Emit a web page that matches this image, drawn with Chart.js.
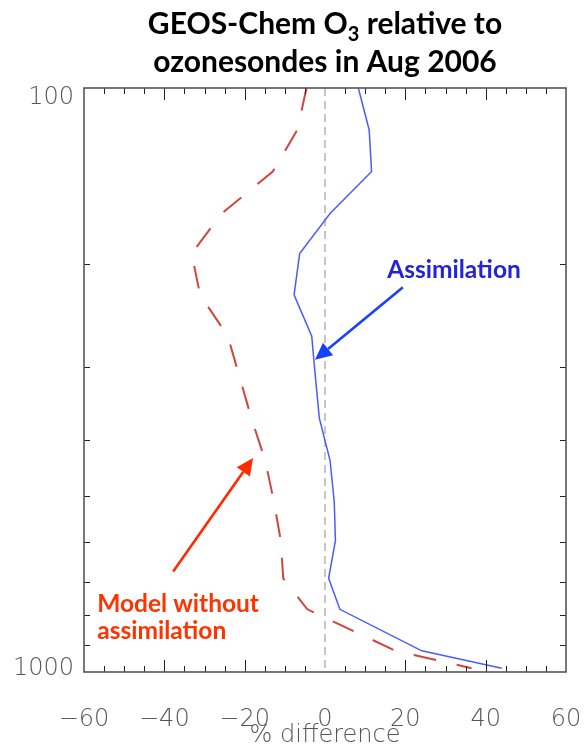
<!DOCTYPE html>
<html>
<head>
<meta charset="utf-8">
<script src="https://cdn.jsdelivr.net/npm/chart.js@4.4.1/dist/chart.umd.min.js"></script>
<style>
  html, body { margin: 0; padding: 0; background: #ffffff; }
  #c { display: block; }
</style>
</head>
<body>
<canvas id="c" width="584" height="744"></canvas>
<script>
// Pressure levels (hPa) of the sonde comparison profile
const pressureLevels = [100, 118, 139, 164, 192, 226, 266, 312, 368, 434, 511, 596, 691, 781, 920, 985];
// GEOS-Chem O3 minus ozonesondes, % difference, with assimilation
const assimDiff = [8.3, 11.0, 11.6, 1.25, -6.3, -7.7, -3.3, -2.4, -1.4, 1.25, 2.3, 2.6, 0.9, 3.7, 24.1, 44.0];
// same, free-running model without assimilation
const noAssimDiff = [-4.6, -6.9, -13.0, -25.7, -33.2, -31.1, -24.2, -21.3, -18.3, -14.9, -12.7, -11.0, -10.4, -4.4, 17.6, 36.5];

// axis ticks
const xTickValues = [-60, -40, -20, 0, 20, 40, 60];
const yLabelValues = [100, 1000];
const yMinorTicks = [200, 300, 400, 500, 600, 700, 800, 900];

const toPoints = (xs) => xs.map((v, i) => ({ x: v, y: pressureLevels[i] }));

const TICK_FONT = "'DejaVu Sans', 'Liberation Sans', sans-serif";
const LABEL_FONT = "Lato, 'Open Sans', sans-serif";

// frame, inward ticks, y labels, axis title, chart title
const framePlugin = {
  id: 'frame',
  beforeDatasetsDraw(chart) {
    const { ctx, chartArea: a, scales: { x } } = chart;
    const x0 = x.getPixelForValue(0);
    ctx.save();
    ctx.strokeStyle = '#b4b4b4';
    ctx.lineWidth = 1.5;
    ctx.setLineDash([8, 5]);
    ctx.beginPath();
    ctx.moveTo(x0, a.top);
    ctx.lineTo(x0, a.bottom);
    ctx.stroke();
    ctx.restore();
  },
  afterDraw(chart) {
    const { ctx, chartArea: a, scales: { x, y } } = chart;
    ctx.save();
    // ticks
    ctx.strokeStyle = '#222';
    ctx.lineWidth = 1;
    ctx.beginPath();
    for (let v = -55; v <= 55; v += 5) {
      if (v === 0) continue;
      const px = Math.round(x.getPixelForValue(v)) + 0.5;
      const len = (v % 20 === 0) ? 12 : 6;
      ctx.moveTo(px, a.bottom); ctx.lineTo(px, a.bottom - len);
      ctx.moveTo(px, a.top); ctx.lineTo(px, a.top + len);
    }
    yMinorTicks.forEach(p => {
      const py = Math.round(y.getPixelForValue(p)) + 0.5;
      ctx.moveTo(a.left, py); ctx.lineTo(a.left + 6, py);
      ctx.moveTo(a.right, py); ctx.lineTo(a.right - 6, py);
    });
    ctx.stroke();
    // frame
    ctx.strokeStyle = '#555';
    ctx.lineWidth = 1.6;
    ctx.strokeRect(a.left, a.top, a.right - a.left, a.bottom - a.top);

    // y labels
    ctx.fillStyle = '#555';
    ctx.font = `200 24px ${TICK_FONT}`;
    ctx.textAlign = 'right';
    ctx.textBaseline = 'top';
    ctx.fillText(String(yLabelValues[0]), a.left - 10, y.getPixelForValue(yLabelValues[0]) - 2);
    ctx.textBaseline = 'alphabetic';
    ctx.fillText(String(yLabelValues[1]), a.left - 10, y.getPixelForValue(yLabelValues[1]) + 3);

    // x axis title
    ctx.textAlign = 'center';
    ctx.fillText('% difference', (a.left + a.right) / 2, a.bottom + 70);

    // title
    ctx.fillStyle = '#000';
    ctx.textAlign = 'left';
    const big = `bold 30px ${LABEL_FONT}`, small = `bold 20px ${LABEL_FONT}`;
    const parts = [['GEOS-Chem O', big, 0], ['3', small, 7], [' relative to', big, 0]];
    let w = 0;
    parts.forEach(([t, f]) => { ctx.font = f; w += ctx.measureText(t).width; });
    const cx = (a.left + a.right) / 2;
    let px = cx - w / 2;
    parts.forEach(([t, f, dy]) => { ctx.font = f; ctx.fillText(t, px, 34 + dy); px += ctx.measureText(t).width; });
    ctx.font = big;
    ctx.textAlign = 'center';
    ctx.fillText('ozonesondes in Aug 2006', cx, 72);
    ctx.restore();
  }
};

// callouts, placed in data coordinates (% difference, hPa)
const callouts = [
  { text: ['Assimilation'], color: '#2323dc', arrowColor: '#1a40ff',
    at: { x: 15.5, p: 211.5 }, from: { x: 19.4, p: 219.4 }, to: { x: -2.5, p: 292 } },
  { text: ['Model without', 'assimilation'], color: '#ff3300', arrowColor: '#ff2a00',
    at: { x: -56.7, p: 788 }, from: { x: -37.8, p: 673 }, to: { x: -17.9, p: 430 } }
];

const calloutPlugin = {
  id: 'callouts',
  afterDatasetsDraw(chart) {
    const { ctx, scales: { x, y } } = chart;
    ctx.save();
    callouts.forEach(c => {
      const x1 = x.getPixelForValue(c.from.x), y1 = y.getPixelForValue(c.from.p);
      const x2 = x.getPixelForValue(c.to.x), y2 = y.getPixelForValue(c.to.p);
      const ang = Math.atan2(y2 - y1, x2 - x1);
      const hl = 17, hw = 8;
      const bx = x2 - hl * Math.cos(ang), by = y2 - hl * Math.sin(ang);
      ctx.strokeStyle = c.arrowColor;
      ctx.fillStyle = c.arrowColor;
      ctx.lineWidth = 2.6;
      ctx.beginPath(); ctx.moveTo(x1, y1); ctx.lineTo(bx, by); ctx.stroke();
      ctx.beginPath();
      ctx.moveTo(x2, y2);
      ctx.lineTo(bx + hw * Math.sin(ang), by - hw * Math.cos(ang));
      ctx.lineTo(bx - hw * Math.sin(ang), by + hw * Math.cos(ang));
      ctx.closePath(); ctx.fill();

      ctx.fillStyle = c.color;
      ctx.font = `bold 24.5px ${LABEL_FONT}`;
      ctx.textAlign = 'left';
      ctx.textBaseline = 'alphabetic';
      const tx = x.getPixelForValue(c.at.x), ty = y.getPixelForValue(c.at.p);
      c.text.forEach((line, i) => ctx.fillText(line, tx, ty + i * 27));
    });
    ctx.restore();
  }
};

new Chart(document.getElementById('c'), {
  type: 'line',
  data: {
    datasets: [
      { label: 'Model without assimilation', data: toPoints(noAssimDiff),
        borderColor: '#d2443e', borderWidth: 2, borderDash: [23, 21],
        pointRadius: 0, tension: 0, fill: false },
      { label: 'Assimilation', data: toPoints(assimDiff),
        borderColor: '#4a5bff', borderWidth: 1.5,
        pointRadius: 0, tension: 0, fill: false }
    ]
  },
  options: {
    responsive: false,
    animation: false,
    devicePixelRatio: 1,
    layout: { padding: { top: 88, right: 18, left: 0, bottom: 0 } },
    plugins: { legend: { display: false }, tooltip: { enabled: false }, title: { display: false } },
    scales: {
      x: {
        type: 'linear', min: -60, max: 60,
        afterBuildTicks: (s) => { s.ticks = xTickValues.map(v => ({ value: v })); },
        afterFit: (s) => { s.height = 72; s.paddingLeft = 0; s.paddingRight = 0; },
        grid: { display: false, drawTicks: false },
        border: { display: false },
        ticks: {
          padding: 33, maxRotation: 0, autoSkip: false,
          color: '#555', font: { family: TICK_FONT, size: 24, weight: '200' },
          callback: (v) => String(v).replace('-', '\u2212')
        },
        title: { display: false }
      },
      y: {
        type: 'logarithmic', reverse: true, min: 100, max: 1000,
        afterFit: (s) => { s.width = 84; s.paddingTop = 0; s.paddingBottom = 0; },
        grid: { display: false, drawTicks: false },
        border: { display: false },
        ticks: { display: false }
      }
    }
  },
  plugins: [framePlugin, calloutPlugin]
});
</script>
</body>
</html>
